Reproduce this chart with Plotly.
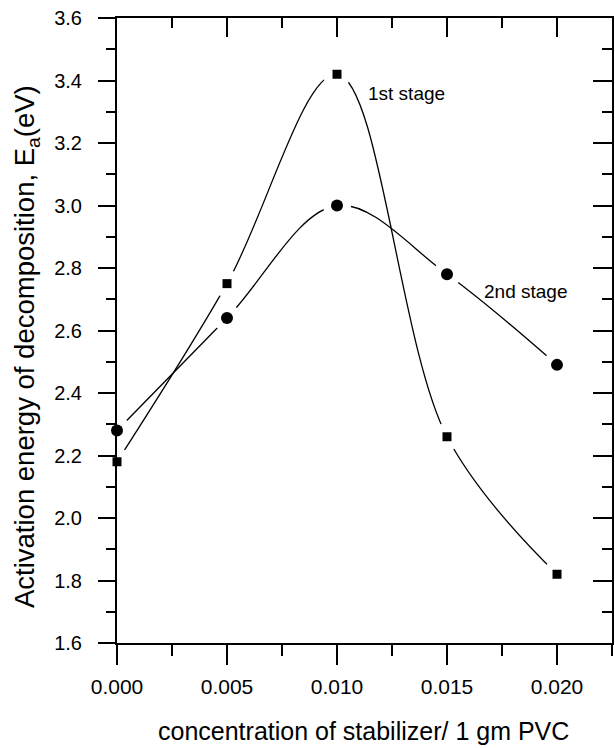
import plotly.graph_objects as go

conc = [0.000, 0.005, 0.010, 0.015, 0.020]
stage1 = [2.18, 2.75, 3.42, 2.26, 1.82]
stage2 = [2.28, 2.64, 3.00, 2.78, 2.49]

x_range = [0, 0.0225]
y_range = [1.6, 3.6]
x_ticks = [0.000, 0.005, 0.010, 0.015, 0.020]
x_ticklabels = ["0.000", "0.005", "0.010", "0.015", "0.020"]
y_ticks = [1.6, 1.8, 2.0, 2.2, 2.4, 2.6, 2.8, 3.0, 3.2, 3.4, 3.6]

FONT = "Liberation Sans, Arial, sans-serif"

fig = go.Figure()

# smooth curves; white markers in the same trace open gaps around the symbols
for ys in (stage1, stage2):
    fig.add_trace(go.Scatter(x=conc, y=ys, mode="lines+markers",
                             line=dict(color="black", width=1.3, shape="spline", smoothing=1.0),
                             marker=dict(color="white", size=28, symbol="circle", line=dict(width=0)),
                             hoverinfo="skip", showlegend=False, cliponaxis=True))

# symbols
fig.add_trace(go.Scatter(x=conc, y=stage1, mode="markers", name="1st stage",
                         marker=dict(color="black", size=9, symbol="square", line=dict(width=0)),
                         showlegend=False, cliponaxis=False))
fig.add_trace(go.Scatter(x=conc, y=stage2, mode="markers", name="2nd stage",
                         marker=dict(color="black", size=12, symbol="circle", line=dict(width=0)),
                         showlegend=False, cliponaxis=False))

# dummy trace for mirrored top/right axes
fig.add_trace(go.Scatter(x=[None], y=[None], xaxis="x2", yaxis="y2", mode="markers",
                         showlegend=False, hoverinfo="skip"))

fig.add_annotation(x=0.0113, y=3.36, text="1st stage", showarrow=False, xref="x", yref="y",
                   xanchor="left", yanchor="middle", font=dict(family=FONT, size=19, color="black"))
fig.add_annotation(x=0.0166, y=2.725, text="2nd stage", showarrow=False, xref="x", yref="y",
                   xanchor="left", yanchor="middle", font=dict(family=FONT, size=19, color="black"))

# y-axis title as a rotated annotation
fig.add_annotation(x=-0.184, y=0.475, xref="paper", yref="paper", textangle=-90,
                   text="Activation energy of decomposition, E<sub>a</sub>(eV)", showarrow=False,
                   xanchor="center", yanchor="middle", font=dict(family=FONT, size=27.5, color="black"))

# x-axis title as an annotation at a fixed pixel position
title_px = 731
fig.add_annotation(x=0.497, y=(748 - 105 - title_px) / (748 - 105 - 18), xref="paper", yref="paper",
                   text="concentration of stabilizer/ 1 gm PVC", showarrow=False,
                   xanchor="center", yanchor="middle", font=dict(family=FONT, size=25, color="black"))

axis_common = dict(showline=True, linecolor="black", linewidth=2, showgrid=False, zeroline=False,
                   tickcolor="black", tickwidth=2)

fig.update_layout(
    width=615, height=748,
    margin=dict(l=117, r=3, t=18, b=105, autoexpand=False),
    paper_bgcolor="white", plot_bgcolor="white",
    font=dict(family=FONT, color="black"),
    xaxis=dict(range=x_range, tickvals=x_ticks, ticktext=x_ticklabels, ticks="outside", ticklen=20,
               tickfont=dict(size=21, family=FONT), ticklabelstandoff=4,
               minor=dict(ticks="outside", ticklen=11, dtick=0.0025, tick0=0, tickcolor="black", tickwidth=2),
               **axis_common),
    yaxis=dict(range=y_range, tickvals=y_ticks, ticktext=[f"{v:.1f}" for v in y_ticks], ticks="outside", ticklen=17,
               tickfont=dict(size=20, family=FONT), ticklabelstandoff=12,
               minor=dict(ticks="outside", ticklen=9, dtick=0.1, tick0=1.6, tickcolor="black", tickwidth=2),
               **axis_common),
    xaxis2=dict(range=x_range, overlaying="x", side="top", tickvals=x_ticks, ticks="inside", ticklen=19,
                showticklabels=False,
                minor=dict(ticks="inside", ticklen=10, dtick=0.0025, tick0=0, tickcolor="black", tickwidth=2),
                **axis_common),
    yaxis2=dict(range=y_range, overlaying="y", side="right", tickvals=y_ticks, ticks="inside", ticklen=19,
                showticklabels=False,
                minor=dict(ticks="inside", ticklen=10, dtick=0.1, tick0=1.6, tickcolor="black", tickwidth=2),
                **axis_common),
)

fig.write_html("out.html")
